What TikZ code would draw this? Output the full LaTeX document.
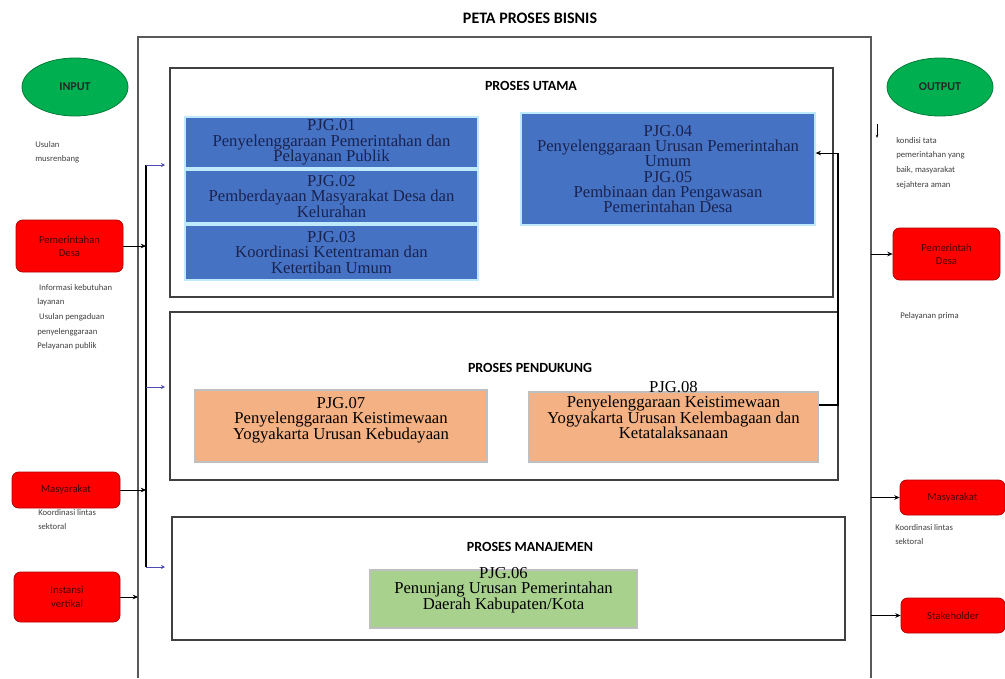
\documentclass[tikz,border=0pt]{standalone}
\usepackage{fontspec}
\setmainfont{Liberation Serif}
\newfontfamily\calfont{Carlito}
\usetikzlibrary{shapes.geometric,arrows.meta}
\definecolor{pjgblue}{RGB}{70,114,196}
\definecolor{pjgorange}{RGB}{244,177,131}
\definecolor{pjggreen}{RGB}{169,209,142}
\definecolor{ovalgreen}{RGB}{0,176,80}
\definecolor{navytext}{RGB}{25,35,80}
\definecolor{redtext}{RGB}{70,0,0}
\tikzset{
  grup/.style={draw=black!75, line width=1pt, fill=white},
  gruptitle/.style={font=\calfont\bfseries\fontsize{10.5}{11}\selectfont},
  pjgtext/.style={align=center, font=\fontsize{12.5}{11.5}\selectfont, inner sep=0pt},
  bluebox/.style={draw=cyan!25, line width=1pt, fill=pjgblue, text=navytext, pjgtext},
  orangebox/.style={draw=black!25, line width=0.8pt, fill=pjgorange},
  greenbox/.style={draw=black!25, line width=0.8pt, fill=pjggreen},
  oval/.style={ellipse, draw=ovalgreen!70!black, line width=0.6pt, fill=ovalgreen,
    minimum width=79.5pt, minimum height=43.5pt, font=\calfont\bfseries\fontsize{9}{10}\selectfont, text=black!85},
  redbox/.style={draw=red!70!black, line width=0.6pt, fill=red, rounded corners=5pt,
    align=center, font=\calfont\fontsize{8}{10}\selectfont, text=redtext},
  note/.style={align=left, anchor=north west, inner sep=0pt, font=\calfont\fontsize{6.5}{11}\selectfont, text=black!75},
  arr/.style={-{Stealth[length=4pt,width=3.5pt]}, line width=0.6pt},
  busarr/.style={-{Stealth[length=3pt,width=3pt]}, line width=0.5pt, draw=blue!40!gray}
}
\begin{document}
\begin{tikzpicture}[x=0.75pt,y=-0.75pt]
\useasboundingbox (0,0) rectangle (1005,678);
\node[font=\calfont\bfseries\fontsize{12}{13}\selectfont] (judul) at (530,18) {PETA PROSES BISNIS};
% bingkai luar
\coordinate (fkb) at (138,678);
\coordinate (fkt) at (138,37);
\coordinate (fnt) at (871,37);
\coordinate (fnb) at (871,678);
\draw[black!65, line width=1pt] (fkb) -- (fkt) -- (fnt) -- (fnb);
% proses utama
\node[grup, minimum width=497.25pt, minimum height=171.75pt] (utama) at (501.5,182.5) {};
\node[gruptitle] (utamat) at (531,86) {PROSES UTAMA};
\node[bluebox, minimum width=219.75pt, minimum height=38.25pt] (pjg01) at (331.5,142.5) {PJG.01\\Penyelenggaraan Pemerintahan dan\\Pelayanan Publik};
\node[bluebox, minimum width=219.75pt, minimum height=39.75pt] (pjg02) at (331.5,196.5) {PJG.02\\Pemberdayaan Masyarakat Desa dan\\Kelurahan};
\node[bluebox, minimum width=219.75pt, minimum height=41.25pt] (pjg03) at (331.5,252.5) {PJG.03\\Koordinasi Ketentraman dan\\Ketertiban Umum};
\node[bluebox, minimum width=220.5pt, minimum height=84pt] (pjg04) at (668,169) {PJG.04\\Penyelenggaraan Urusan Pemerintahan\\Umum\\PJG.05\\Pembinaan dan Pengawasan\\Pemerintahan Desa};
% proses pendukung
\node[grup, minimum width=501pt, minimum height=126pt] (pendukung) at (504,396) {};
\node[gruptitle] (pendukungt) at (530,368) {PROSES PENDUKUNG};
\node[orangebox, minimum width=219pt, minimum height=54pt] (pjg07) at (341,426) {};
\node[pjgtext, below] (pjg07t) at (341,397) {PJG.07\\Penyelenggaraan Keistimewaan\\Yogyakarta Urusan Kebudayaan};
\node[orangebox, minimum width=216.75pt, minimum height=52.5pt] (pjg08) at (673.5,427) {};
\node[pjgtext, below] (pjg08t) at (673.5,381) {PJG.08\\Penyelenggaraan Keistimewaan\\Yogyakarta Urusan Kelembagaan dan\\Ketatalaksanaan};
% proses manajemen
\node[grup, minimum width=504.75pt, minimum height=92.25pt] (manajemen) at (508.5,578.5) {};
\node[gruptitle] (manajement) at (530,547) {PROSES MANAJEMEN};
\node[greenbox, minimum width=200.25pt, minimum height=43.5pt] (pjg06) at (503.5,599) {};
\node[pjgtext, below] (pjg06t) at (503.5,567) {PJG.06\\Penunjang Urusan Pemerintahan\\Daerah Kabupaten/Kota};
% input
\node[oval] (input) at (75,87) {INPUT};
\node[note] (inputket) at (35,141) {Usulan\\musrenbang};
\node[redbox, minimum width=80.25pt, minimum height=39pt] (pemdesk) at (69.5,246) {Pemerintahan\\Desa};
\node[note] (pemdeskket) at (37,284) {\ Informasi kebutuhan\\layanan\\\ Usulan pengaduan\\penyelenggaraan\\Pelayanan publik};
\node[redbox, minimum width=81pt, minimum height=27pt] (masyk) at (66,490) {Masyarakat};
\node[note] (masykket) at (38,509) {Koordinasi lintas\\sektoral};
\node[redbox, minimum width=79.5pt, minimum height=37.5pt] (instansi) at (67,597) {Instansi\\vertikal};
% bus kiri
\coordinate (busa) at (146,165);
\coordinate (busb) at (146,387);
\coordinate (busc) at (146,567);
\draw[line width=0.8pt] (busa) -- (busc);
\draw[busarr] (busa) -- (165,165);
\draw[busarr] (busb) -- (165,387);
\draw[busarr] (busc) -- (165,567);
\draw[arr] (pemdesk.east) -- (pemdesk.east -| busa);
\draw[arr] (masyk.east) -- (masyk.east -| busa);
\draw[arr] (instansi.east) -- (instansi.east -| fkt);
% output
\node[oval] (output) at (940,87) {OUTPUT};
\coordinate (kecil) at (877,124);
\draw[-{Stealth[length=2.5pt]}, line width=0.5pt] (kecil) -- (877,138);
\node[note] (outputket) at (896,137) {kondisi tata\\pemerintahan yang\\baik, masyarakat\\sejahtera aman};
\node[redbox, minimum width=80.25pt, minimum height=39pt] (pemdesn) at (946.5,254) {Pemerintah\\Desa};
\node[note] (pemdesnket) at (900,312) {Pelayanan prima};
\node[redbox, minimum width=78.75pt, minimum height=26.25pt] (masyn) at (952.5,497.5) {Masyarakat};
\node[note] (masynket) at (895,524) {Koordinasi lintas\\sektoral};
\node[redbox, minimum width=78pt, minimum height=26.25pt] (stake) at (953,615.5) {Stakeholder};
\draw[arr] (pemdesn.west -| fnt) -- (pemdesn.west);
\draw[arr] (masyn.west -| fnt) -- (masyn.west);
\draw[arr] (stake.west -| fnt) -- (stake.west);
% umpan balik
\coordinate (balik) at (838,405);
\draw[line width=0.8pt] (pjg08.east |- balik) -- (balik) -- (838,153);
\draw[arr] (838,153) -- (pjg04.east |- 0,153);
\end{tikzpicture}
\end{document}
